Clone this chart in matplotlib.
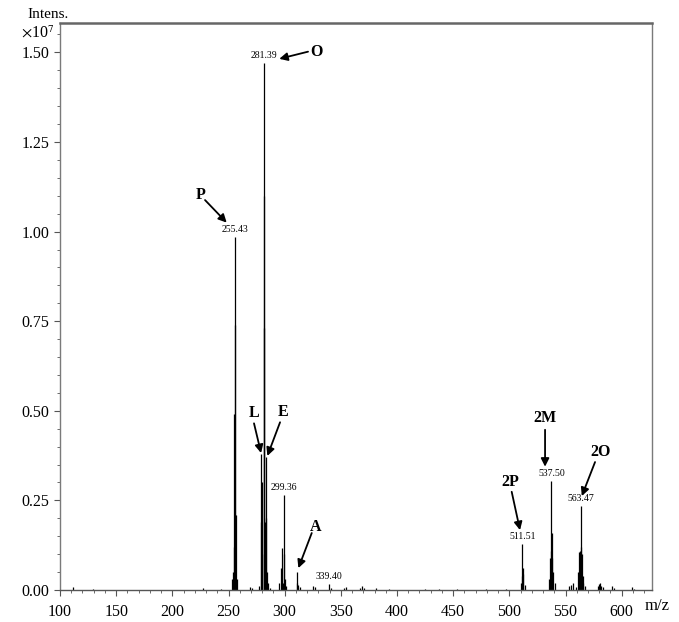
import matplotlib
matplotlib.use("Agg")
import matplotlib.pyplot as plt
from matplotlib.ticker import MultipleLocator, FormatStrFormatter

plt.rcParams['font.family'] = ['Liberation Serif', 'DejaVu Serif']
plt.rcParams['mathtext.fontset'] = 'stix'

# ---- data (m/z, intensity x1e7) ----
mz_p = [253.3, 254.2, 254.9, 255.2, 255.43, 255.6, 256.0, 256.4, 257.4]
int_p = [0.03, 0.05, 0.12, 0.49, 0.985, 0.74, 0.21, 0.21, 0.03]

mz_loe = [277.2, 278.9, 279.3, 279.6, 280.2, 281.2, 281.39, 281.7, 282.2,
          282.9, 283.3, 283.6, 284.2, 285.2]
int_loe = [0.01, 0.19, 0.38, 0.30, 0.10, 1.10, 1.47, 0.73, 0.19,
           0.18, 0.37, 0.20, 0.05, 0.02]

mz_299 = [295.3, 297.0, 297.3, 298.4, 299.36, 299.6, 300.3, 301.3]
int_299 = [0.02, 0.06, 0.117, 0.02, 0.265, 0.10, 0.03, 0.01]

mz_311 = [311.0, 311.3, 312.3, 313.3]
int_311 = [0.02, 0.05, 0.015, 0.008]

mz_noise = [112, 129, 227, 243, 269, 271, 287, 325, 327, 339.4, 341, 353,
            355, 367, 369, 371, 381, 393, 425, 437, 453, 479, 497]
int_noise = [0.008, 0.003, 0.006, 0.004, 0.008, 0.006, 0.006, 0.012, 0.008,
             0.018, 0.006, 0.005, 0.008, 0.006, 0.01, 0.006, 0.005, 0.004,
             0.003, 0.003, 0.003, 0.003, 0.004]

mz_2p = [510.5, 511.2, 511.51, 511.8, 512.5, 513.5]
int_2p = [0.02, 0.04, 0.128, 0.06, 0.045, 0.015]

mz_2m = [535.5, 536.2, 536.8, 537.5, 537.8, 538.4, 539.2, 540.3]
int_2m = [0.03, 0.09, 0.11, 0.304, 0.16, 0.09, 0.05, 0.02]

mz_2o = [553, 555, 557, 559, 561.3, 562.0, 562.6, 563.47, 563.8, 564.4,
         565.2, 566.0, 567.0]
int_2o = [0.01, 0.015, 0.02, 0.008, 0.05, 0.105, 0.11, 0.234, 0.12, 0.10,
          0.04, 0.02, 0.01]

mz_tail = [579, 580, 581, 582, 583, 591, 593, 609, 611]
int_tail = [0.01, 0.018, 0.02, 0.01, 0.008, 0.01, 0.006, 0.008, 0.004]

# labelled peaks
label_mz = [255.43, 281.39, 299.36, 339.40, 511.51, 537.50, 563.47]
label_int = [0.985, 1.47, 0.265, 0.018, 0.128, 0.304, 0.234]

# annotation letters: (text, text pos, arrow tail, arrow tip)
ann_text = ['O', 'P', 'L', 'E', 'A', '2P', '2M', '2O']
ann_text_xy = [(327.9, 1.502), (225.3, 1.102), (272.7, 0.493), (298.3, 0.496),
               (327.9, 0.176), (500.6, 0.301), (531.8, 0.480), (580.8, 0.385)]
ann_tail = [(320.8, 1.502), (229.1, 1.088), (272.7, 0.465), (295.9, 0.468),
            (324.1, 0.159), (502.1, 0.274), (531.8, 0.447), (576.3, 0.357)]
ann_tip = [(295.2, 1.482), (248.4, 1.025), (279.0, 0.382), (284.6, 0.374),
           (312.2, 0.061), (509.5, 0.167), (531.8, 0.344), (564.5, 0.262)]

fig = plt.figure(figsize=(6.79, 6.22), dpi=100)
ax = fig.add_axes([60/679, 1-590/622, 592/679, 567/622])

groups = [(mz_p, int_p), (mz_loe, int_loe), (mz_299, int_299), (mz_311, int_311),
          (mz_noise, int_noise), (mz_2p, int_2p), (mz_2m, int_2m),
          (mz_2o, int_2o), (mz_tail, int_tail)]
for mz, it in groups:
    ax.vlines(mz, 0, it, colors='black', linewidth=0.9)

for m, h in zip(label_mz, label_int):
    ax.annotate(f'{m:.2f}', xy=(m, h), xytext=(0, 2), textcoords='offset points',
                ha='center', va='bottom', fontsize=7)

for t, txy, tail, tip in zip(ann_text, ann_text_xy, ann_tail, ann_tip):
    ax.text(txy[0], txy[1], t, ha='center', va='center', fontsize=11.5,
            fontweight='bold')
    ax.annotate('', xy=tip, xytext=tail,
                arrowprops=dict(arrowstyle='-|>', color='black', lw=1.3,
                                mutation_scale=12, shrinkA=0, shrinkB=0))

ax.set_xlim(100, 627)
ax.set_ylim(0, 1.582)
ax.xaxis.set_major_locator(MultipleLocator(50))
ax.xaxis.set_minor_locator(MultipleLocator(10))
ax.yaxis.set_major_locator(MultipleLocator(0.25))
ax.yaxis.set_minor_locator(MultipleLocator(0.05))
ax.yaxis.set_major_formatter(FormatStrFormatter('%.2f'))
ax.tick_params(axis='both', which='major', labelsize=11.5, direction='out',
               length=4, color='#555555', width=0.8)
ax.tick_params(axis='both', which='minor', direction='out', length=2,
               color='#555555', width=0.6)
ax.tick_params(axis='x', which='major', pad=6)

for s in ['left', 'right', 'bottom']:
    ax.spines[s].set_color('#7a7a7a')
    ax.spines[s].set_linewidth(1.0)
ax.spines['top'].set_color('#666666')
ax.spines['top'].set_linewidth(1.8)
ax.spines['bottom'].set_color('#555555')

fig.text(48/679, 1-14/622, 'Intens.', ha='center', va='center', fontsize=11)
fig.text(38/679, 1-33/622, r'$\times\mathregular{10}^{7}$', ha='center',
         va='center', fontsize=11.5)
fig.text(657/679, 1-606/622, 'm/z', ha='center', va='center', fontsize=12)

fig.savefig('out.png', dpi=100)
